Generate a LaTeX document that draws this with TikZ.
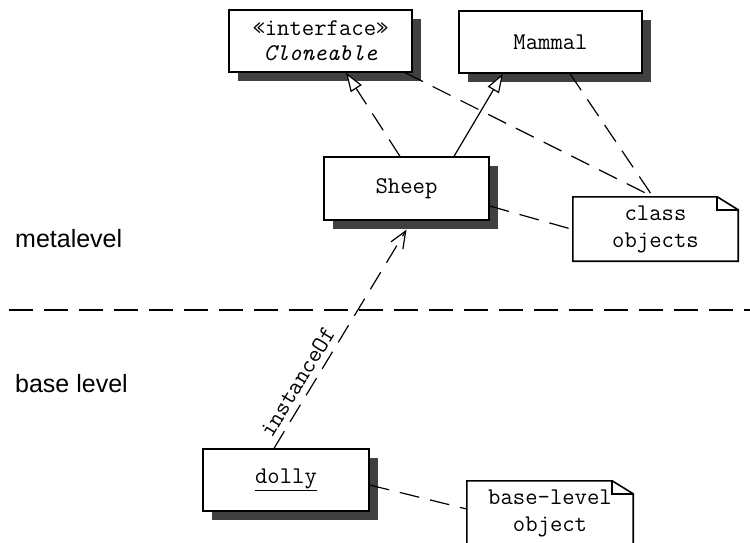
\documentclass[tikz,border=0pt]{standalone}
\usepackage{fontspec}
\setmainfont{Liberation Sans}
\newfontfamily\monof{Latin Modern Mono}
\usetikzlibrary{shadows,arrows.meta,calc}
\definecolor{shadowgray}{HTML}{404040}
\begin{document}
\begin{tikzpicture}[x=1pt,y=-1pt,
  cls/.style={draw=black, line width=1.3pt, fill=white, inner sep=0pt, align=center,
    font=\monof\fontsize{24}{25}\selectfont,
    general shadow={fill=shadowgray, draw=none, shadow xshift=9pt, shadow yshift=-9pt}},
  notetext/.style={inner sep=0pt, align=center, font=\monof\fontsize{24}{27}\selectfont},
  noteline/.style={draw=black, line width=1.6pt, line join=miter},
  dep/.style={line width=1.2pt, dash pattern=on 20pt off 11pt},
  gen/.style={line width=1.2pt},
  tri/.style={-{Triangle[length=19pt,width=13pt,fill=white,line width=1.2pt]}},
  barb/.style={-{Straight Barb[length=17pt,width=14pt,line width=1.2pt]}},
  lvl/.style={anchor=base west, inner sep=0pt, font=\fontsize{25}{30}\selectfont}]
\useasboundingbox (0,0) rectangle (750,542);

% separator
\coordinate (sepL) at (0,310);
\coordinate (sepR) at (750,310);
\draw[line width=1.8pt, dash pattern=on 24pt off 11pt, dash phase=26pt] (sepL) -- (sepR);

% level labels
\node[lvl] (meta) at (15,247) {metalevel};
\node[lvl] (base) at (15,392) {base level};

% classes
\node[cls, minimum width=183pt, minimum height=62pt] (clone) at (320.5,41) {«interface»\\\itshape Cloneable};
\node[cls, minimum width=183pt, minimum height=62pt] (mammal) at (550.5,42) {Mammal};
\node[cls, minimum width=165pt, minimum height=63pt] (sheep) at (406.5,188.5) {Sheep};
\node[cls, minimum width=166pt, minimum height=62pt] (dolly) at (286,480) {\underline{dolly}};

% notes
\node[notetext, minimum width=165pt, minimum height=64pt] (cobj) at (655.5,229) {class\\objects};
\draw[noteline] (cobj.north west) -- ([xshift=-21pt]cobj.north east) -- ([yshift=-13pt]cobj.north east) -- (cobj.south east) -- (cobj.south west) -- cycle;
\draw[noteline] ([xshift=-21pt]cobj.north east) |- ([yshift=-13pt]cobj.north east);

\node[notetext, minimum width=166pt, minimum height=64pt] (blobj) at (550,513) {base-level\\object};
\draw[noteline] (blobj.north west) -- ([xshift=-21pt]blobj.north east) -- ([yshift=-13pt]blobj.north east) -- (blobj.south east) -- (blobj.south west) -- cycle;
\draw[noteline] ([xshift=-21pt]blobj.north east) |- ([yshift=-13pt]blobj.north east);

% connectors
\draw[dep] ([xshift=84.5pt]clone.south) -- ([xshift=-2.5pt]cobj.north);
\draw[dep] ([xshift=19.5pt]mammal.south) -- ([xshift=-2.5pt]cobj.north);
\draw[dep] ([yshift=-17.5pt]sheep.east) -- ([yshift=-0.5pt]cobj.west);
\draw[dep] ([yshift=-5pt]dolly.east) -- ([yshift=4pt]blobj.west);
\draw[dep, tri] ([xshift=-6.5pt]sheep.north) -- ([xshift=25.5pt]clone.south);
\draw[gen, tri] ([xshift=47.5pt]sheep.north) -- ([xshift=-47.5pt]mammal.south);
\draw[dep, barb] ([xshift=-12pt]dolly.north) -- node[pos=0.27, sloped, above=6pt, inner sep=0pt, font=\monof\fontsize{24}{25}\selectfont] (inst) {instanceOf} ([yshift=-9pt]sheep.south);
\end{tikzpicture}
\end{document}
